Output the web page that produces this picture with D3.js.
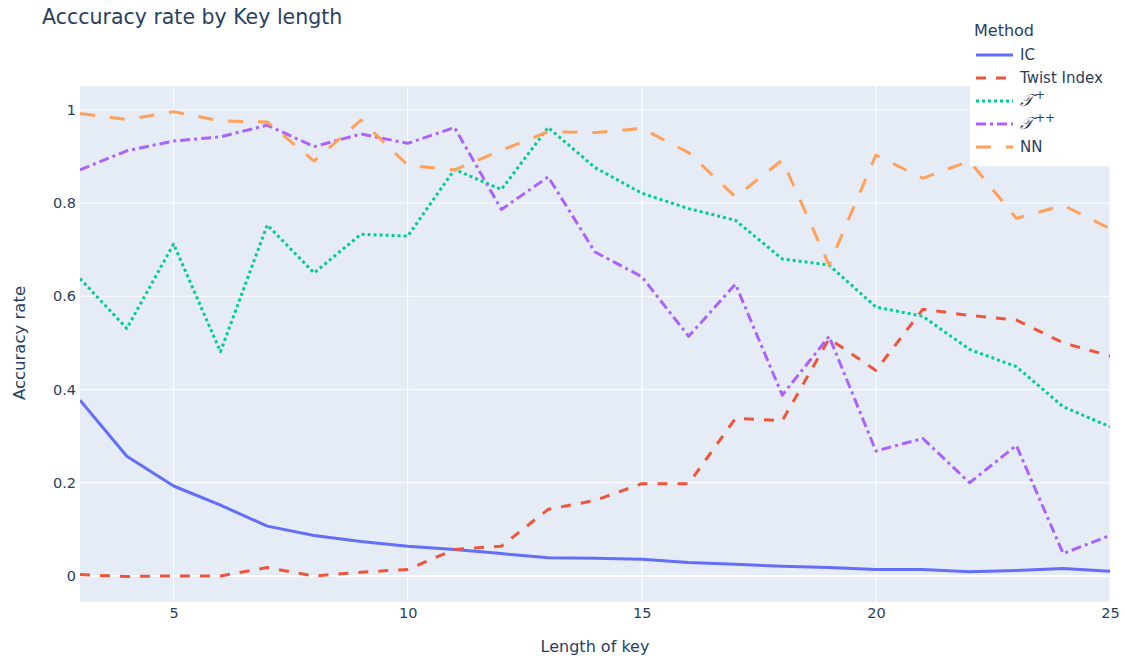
<!DOCTYPE html>
<html><head><meta charset="utf-8">
<script src="https://cdn.jsdelivr.net/npm/d3@7"></script>
<style>body{margin:0;background:#fff;} text{font-family:"DejaVu Sans",Verdana,sans-serif;fill:#2a3f5f;}</style>
</head><body>
<svg id="chart" width="1125" height="660"></svg>
<script>
const keyLength = [3,4,5,6,7,8,9,10,11,12,13,14,15,16,17,18,19,20,21,22,23,24,25];
const icValues = [0.377,0.257,0.193,0.152,0.107,0.087,0.074,0.064,0.057,0.048,0.039,0.038,0.036,0.029,0.025,0.021,0.018,0.014,0.014,0.009,0.012,0.016,0.010];
const twistValues = [0.003,-0.001,0,0,0.018,0,0.008,0.014,0.057,0.064,0.143,0.162,0.198,0.198,0.338,0.333,0.509,0.441,0.572,0.559,0.549,0.500,0.472];
const tPlusValues = [0.638,0.531,0.712,0.481,0.753,0.650,0.733,0.729,0.872,0.829,0.962,0.876,0.821,0.788,0.763,0.680,0.667,0.577,0.557,0.486,0.449,0.363,0.320];
const tPlusPlusValues = [0.871,0.912,0.933,0.942,0.967,0.921,0.948,0.928,0.962,0.786,0.856,0.695,0.642,0.514,0.626,0.388,0.514,0.268,0.295,0.200,0.280,0.048,0.087];
const nnValues = [0.992,0.979,0.996,0.976,0.974,0.890,0.978,0.881,0.871,0.913,0.953,0.951,0.960,0.908,0.813,0.892,0.667,0.903,0.853,0.890,0.767,0.795,0.745];
const xTicks = [5,10,15,20,25];
const yTicks = [0,0.2,0.4,0.6,0.8,1];
const seriesNames = ["IC","Twist Index","T+","T++","NN"];
const seriesColors = ["#636efa","#EF553B","#00cc96","#ab63fa","#FFA15A"];
const seriesDash = ["none","10,10","3,3","10,4,3,4","15,15"];

const series = [icValues,twistValues,tPlusValues,tPlusPlusValues,nnValues].map((v,i)=>({
  name:seriesNames[i], color:seriesColors[i], dash:seriesDash[i],
  values:keyLength.map((k,j)=>({x:k,y:v[j]}))
}));

const svg = d3.select("#chart");
const L=80,R=1110,T=86,B=602;
const x = d3.scaleLinear().domain([3,25]).range([L,R]);
const y = d3.scaleLinear().domain([-0.0558,1.051]).range([B,T]);
const FONT = "DejaVu Sans, Verdana, sans-serif";

svg.append("rect").attr("x",L).attr("y",T).attr("width",R-L).attr("height",B-T).attr("fill","#E5ECF6");

// grid
svg.append("g").selectAll("line").data(xTicks).join("line")
  .attr("x1",d=>x(d)).attr("x2",d=>x(d)).attr("y1",T).attr("y2",B)
  .attr("stroke","#fff").attr("stroke-width",1);
svg.append("g").selectAll("line").data(yTicks).join("line")
  .attr("x1",L).attr("x2",R).attr("y1",d=>y(d)).attr("y2",d=>y(d))
  .attr("stroke","#fff").attr("stroke-width",d=>d===0?2:1);

// axes (labels only)
const xAxis = d3.axisBottom(x).tickValues(xTicks).tickSize(0).tickPadding(6).tickFormat(d3.format("d"));
const gx = svg.append("g").attr("transform",`translate(0,${B})`).call(xAxis);
gx.select(".domain").remove();
gx.selectAll("text").attr("font-size",14.5).attr("dy","0.71em").style("fill","#2a3f5f").attr("font-family",FONT);
const yAxis = d3.axisLeft(y).tickValues(yTicks).tickSize(0).tickPadding(4).tickFormat(d=>d3.format("~g")(d));
const gy = svg.append("g").attr("transform",`translate(${L},0)`).call(yAxis);
gy.select(".domain").remove();
gy.selectAll("text").attr("font-size",14.5).style("fill","#2a3f5f").attr("font-family",FONT);

// lines
const line = d3.line().x(d=>x(d.x)).y(d=>y(d.y));
const plot = svg.append("g");
plot.append("defs").append("clipPath").attr("id","clip").append("rect").attr("x",L).attr("y",T).attr("width",R-L).attr("height",B-T);
series.forEach(s=>{
  plot.append("path").datum(s.values).attr("d",line)
    .attr("fill","none").attr("stroke",s.color).attr("stroke-width",3)
    .attr("stroke-dasharray",s.dash).attr("stroke-linejoin","round")
    .attr("clip-path","url(#clip)");
});

// titles
svg.append("text").attr("x",42).attr("y",24).attr("font-size",20.5).text("Acccuracy rate by Key length");
svg.append("text").attr("x",595).attr("y",652).attr("text-anchor","middle").attr("font-size",16).text("Length of key");
svg.append("text").attr("transform",`translate(25,343) rotate(-90)`).attr("text-anchor","middle").attr("font-size",16.5).text("Accuracy rate");

// legend
const lg = svg.append("g");
lg.append("rect").attr("x",970).attr("y",10).attr("width",155).attr("height",156).attr("fill","#fff");
lg.append("text").attr("x",974).attr("y",36).attr("font-size",16).text("Method");
const itemY = [55,78,101,124,147];
series.forEach((s,i)=>{
  lg.append("line").attr("x1",976).attr("x2",1013).attr("y1",itemY[i]).attr("y2",itemY[i])
    .attr("stroke",s.color).attr("stroke-width",3).attr("stroke-dasharray",s.dash);
  const t = lg.append("text").attr("x",1020).attr("y",itemY[i]+5).attr("font-size",15);
  if(i===2||i===3){
    t.append("tspan").attr("font-family","DejaVu Serif, serif").attr("font-style","italic").attr("font-size",17).text("\u{1D4AF}");
    t.append("tspan").attr("dx",2).attr("dy",-7).attr("font-size",12).text(i===2?"+":"++");
  } else t.text(s.name);
});
</script>
</body></html>
